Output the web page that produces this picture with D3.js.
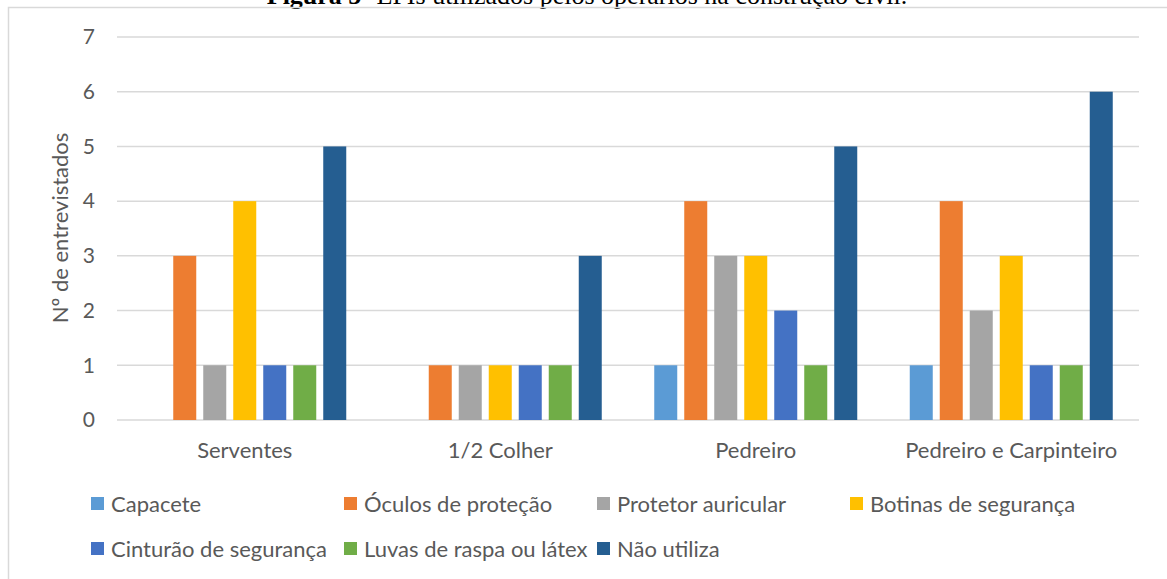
<!DOCTYPE html>
<html>
<head>
<meta charset="utf-8">
<script src="https://cdn.jsdelivr.net/npm/d3@7"></script>
<style>
  body { margin: 0; background: #fff; }
  svg { display: block; }
  text { font-family: Lato, "Open Sans", sans-serif; fill: #595959; }
</style>
</head>
<body>
<script>
// data
const categories = ['Serventes', '1/2 Colher', 'Pedreiro', 'Pedreiro e Carpinteiro']
const series = ['Capacete', 'Óculos de proteção', 'Protetor auricular', 'Botinas de segurança',
  'Cinturão de segurança', 'Luvas de raspa ou látex', 'Não utiliza']
const values = [
  [0, 3, 1, 4, 1, 1, 5],
  [0, 1, 1, 1, 1, 1, 3],
  [1, 4, 3, 3, 2, 1, 5],
  [1, 4, 2, 3, 1, 1, 6]
]
const yTicks = [0, 1, 2, 3, 4, 5, 6, 7]
const colors = ['#5B9BD5', '#ED7D31', '#A5A5A5', '#FFC000', '#4472C4', '#70AD47', '#255E91']

const w = 1167, h = 579

const svg = d3.select('body').append('svg')
  .attr('width', w).attr('height', h)

// caption, cut by the top edge
const cap = svg.append('text')
  .attr('x', 587).attr('y', 4)
  .attr('text-anchor', 'middle')
  .style('font-family', '"Liberation Serif", "Times New Roman", serif')
  .style('font-size', '26px')
  .style('fill', '#000')
cap.append('tspan').style('font-weight', 'bold').text('Figura 5- ')
cap.append('tspan').text('EPIs utilizados pelos operários na construção civil.')

// chart frame
svg.append('rect')
  .attr('x', 8.5).attr('y', 7.5)
  .attr('width', 1170).attr('height', 600)
  .attr('fill', 'none')
  .attr('stroke', '#D9D9D9')
  .attr('stroke-width', 1.5)

const plotL = 117, plotR = 1139, plotT = 37, plotB = 420

const x0 = d3.scaleBand()
  .domain(categories)
  .range([plotL, plotR])

const x1 = d3.scaleBand()
  .domain(series)
  .range([0, 203])
  .paddingInner(7 / 30)

const y = d3.scaleLinear()
  .domain([0, 7])
  .range([plotB, plotT])

// grid
svg.append('g')
  .selectAll('line')
  .data(yTicks)
  .enter()
  .append('line')
  .attr('x1', plotL).attr('x2', plotR)
  .attr('y1', d => y(d)).attr('y2', d => y(d))
  .attr('stroke', '#D9D9D9')
  .attr('stroke-width', 1.5)

// y axis labels
const yAxis = d3.axisLeft(y).tickValues(yTicks).tickFormat(d3.format('d')).tickSize(0).tickPadding(0)
svg.append('g')
  .attr('transform', `translate(95, 0)`)
  .call(yAxis)
  .call(g => g.select('.domain').remove())
  .selectAll('text')
  .style('font-family', 'Lato, sans-serif')
  .style('font-size', '21px')
  .style('fill', '#595959')

svg.append('text')
  .attr('transform', `translate(68, 228) rotate(-90)`)
  .attr('text-anchor', 'middle')
  .style('font-size', '22px')
  .text('Nº de entrevistados')

// x axis labels
const xAxis = d3.axisBottom(x0).tickSize(0).tickPadding(0)
svg.append('g')
  .attr('transform', `translate(0, 442)`)
  .call(xAxis)
  .call(g => g.select('.domain').remove())
  .selectAll('text')
  .style('font-family', 'Lato, sans-serif')
  .style('font-size', '22px')
  .style('fill', '#595959')

// bars
const offset = (x0.bandwidth() - 203) / 2
svg.append('g')
  .selectAll('g')
  .data(values)
  .enter()
  .append('g')
  .attr('transform', (d, i) => `translate(${x0(categories[i]) + offset}, 0)`)
  .selectAll('rect')
  .data(d => d.map((v, j) => ({ key: series[j], value: v, color: colors[j] })))
  .enter()
  .append('rect')
  .attr('x', d => x1(d.key))
  .attr('y', d => y(d.value))
  .attr('width', x1.bandwidth())
  .attr('height', d => plotB - y(d.value))
  .attr('fill', d => d.color)

// legend
const legendX = [91, 344, 597, 850]
const legend = svg.append('g')
series.forEach((s, i) => {
  const row = Math.floor(i / 4), col = i % 4
  const gx = legendX[col], gy = 497 + row * 45
  legend.append('rect')
    .attr('x', gx).attr('y', gy)
    .attr('width', 13).attr('height', 13)
    .attr('fill', colors[i])
  legend.append('text')
    .attr('x', gx + 20).attr('y', gy + 15)
    .style('font-size', '22px')
    .text(s)
})
</script>
</body>
</html>
